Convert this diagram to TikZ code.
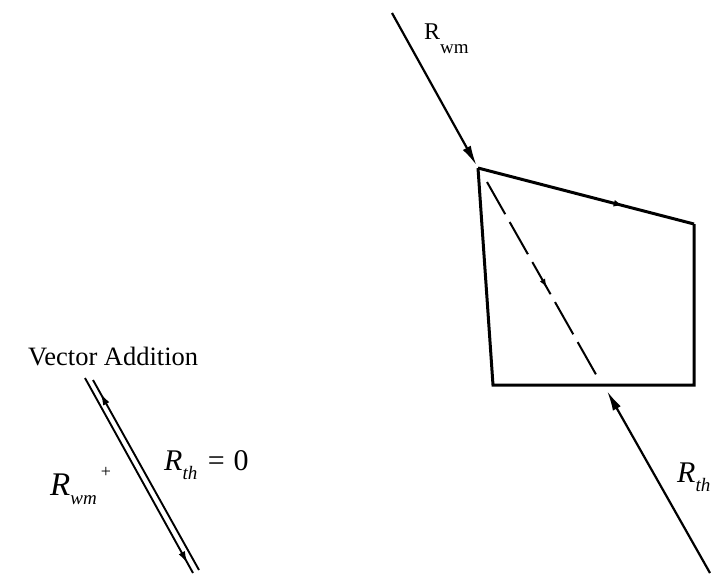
\documentclass[tikz,border=0pt]{standalone}
\usepackage{fontspec}
\setmainfont{Liberation Serif}
\usetikzlibrary{arrows.meta, decorations.markings}

\begin{document}
\begin{tikzpicture}[x=1pt, y=-1pt,
          vec/.style={line width=2.2pt, -{Latex[length=20pt,width=9pt]}},
          edge/.style={line width=3pt, line join=miter},
          pair/.style={line width=1.9pt},
          midarrow/.style 2 args={postaction={decorate},
                      decoration={markings, mark=at position #1 with {\arrow{#2}}}},
          lbl/.style={inner sep=0pt, font=\fontsize{30}{32}\selectfont},
          sub/.style={inner sep=0pt, font=\fontsize{17}{19}\selectfont\itshape}
        ]
        \useasboundingbox (0,0) rectangle (713,574);

        % Corners of the polygon
        \coordinate (A) at (478,168);
        \coordinate (B) at (694,224);
        \coordinate (C) at (694,385);
        \coordinate (D) at (493,385);

        % Incoming and outgoing vectors
        \coordinate (wmS) at (392,13);
        \coordinate (thS) at (710,573);
        \coordinate (thE) at (607,391);

        \draw[edge] (B) -- (C) -- (D) -- (A);
        \draw[edge, midarrow={0.67}{Latex[length=9pt,width=7pt]}] (A) -- (B);
        \draw[line width=2pt, dash pattern=on 37pt off 9pt,
              midarrow={0.54}{Latex[length=9pt,width=6pt]}] (487,182) -- (598,378);

        \draw[vec, shorten >=3pt] (wmS) -- (A);
        \draw[vec] (thS) -- (thE);

        % Labels on the right
        \node[inner sep=0pt, anchor=base west, font=\fontsize{24}{26}\selectfont]
              (rwm) at (424,39) {R\raisebox{-0.6em}{\fontsize{19}{20}\selectfont wm}};
        \node[lbl, anchor=base west] (rth) at (677,482)
              {\textit{R}\raisebox{-0.33em}{\fontsize{19}{20}\selectfont\itshape th}};

        % Vector addition
        \node[inner sep=0pt, anchor=base west, font=\fontsize{26.5}{29}\selectfont]
              (title) at (28,365) {Vector Addition};

        \coordinate (L1s) at (85,378);
        \coordinate (L1e) at (193,573);
        \coordinate (L2s) at (199,570);
        \coordinate (L2e) at (93,380);
        \draw[pair, midarrow={0.95}{Latex[length=12pt,width=7pt]}] (L1s) -- (L1e);
        \draw[pair, midarrow={0.93}{Latex[length=12pt,width=7pt]}] (L2s) -- (L2e);

        \node[lbl, anchor=base west, font=\fontsize{33}{35}\selectfont] (rwm2) at (50,495)
              {\textit{R}\raisebox{-0.28em}{\fontsize{19}{20}\selectfont\itshape wm}};
        \node[inner sep=0pt, font=\fontsize{18}{18}\selectfont] (plus) at (106,472) {+};
        \node[lbl, anchor=base west] (rth0) at (164,470)
              {\textit{R}\raisebox{-0.33em}{\fontsize{19}{20}\selectfont\itshape th}\hspace{0.35em}=\hspace{0.3em}0};
      \end{tikzpicture}
\end{document}
